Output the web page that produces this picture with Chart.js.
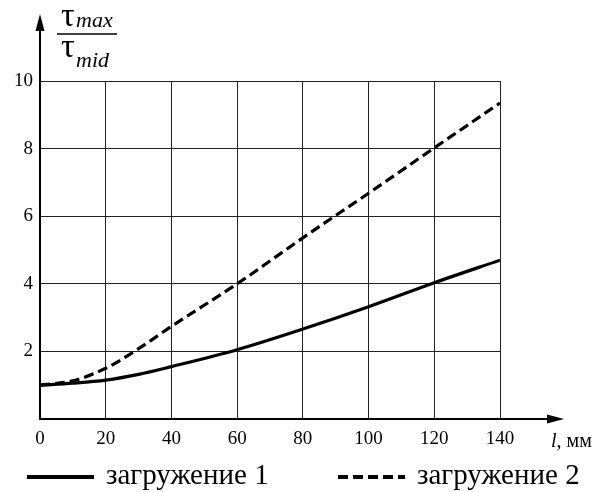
<!DOCTYPE html>
<html>
<head>
<meta charset="utf-8">
<script src="https://cdn.jsdelivr.net/npm/chart.js@4/dist/chart.umd.min.js"></script>
<style>
    html, body { margin: 0; padding: 0; background: #fff; }
    #wrap { width: 613px; height: 492px; position: relative; }
</style>
</head>
<body>
<div id="wrap"><canvas id="chart" width="613" height="492"></canvas></div>
<script>
// ================================================================
// DATA
// ================================================================
const lengths    = [0, 10, 20, 30, 40, 60, 80, 100, 120, 140];      // l, мм
const load1      = [1.0, 1.06, 1.15, 1.32, 1.55, 2.05, 2.66, 3.32, 4.03, 4.7];
const load2      = [1.0, 1.13, 1.5, 2.08, 2.74, 4.0, 5.36, 6.68, 8.02, 9.35];
const xTicks     = [0, 20, 40, 60, 80, 100, 120, 140];
const yTicks     = [2, 4, 6, 8, 10];
const seriesNames = ['загружение 1', 'загружение 2'];

const SERIF = '"Liberation Serif", "DejaVu Serif", serif';

const toPoints = ys => lengths.map((x, i) => ({ x, y: ys[i] }));

// ================================================================
// PLUGIN: стрелки осей, подписи осей, легенда
// ================================================================
const axisDecor = {
    id: 'axisDecor',
    afterDraw(chart) {
        const { ctx, chartArea: a } = chart;
        ctx.save();
        ctx.strokeStyle = '#000'; ctx.fillStyle = '#000';

        // y arrow
        ctx.lineWidth = 2;
        ctx.beginPath(); ctx.moveTo(a.left, a.top); ctx.lineTo(a.left, 26); ctx.stroke();
        ctx.beginPath(); ctx.moveTo(a.left, 14); ctx.lineTo(a.left - 4.5, 31); ctx.lineTo(a.left + 4.5, 31); ctx.closePath(); ctx.fill();

        // x arrow
        ctx.beginPath(); ctx.moveTo(a.right, a.bottom); ctx.lineTo(552, a.bottom); ctx.stroke();
        ctx.beginPath(); ctx.moveTo(564, a.bottom); ctx.lineTo(547, a.bottom - 4.5); ctx.lineTo(547, a.bottom + 4.5); ctx.closePath(); ctx.fill();

        // y title: τmax / τmid
        ctx.textBaseline = 'alphabetic'; ctx.textAlign = 'left';
        ctx.font = `34px ${SERIF}`;
        ctx.fillText('τ', 61, 26);
        ctx.fillText('τ', 61, 57);
        ctx.font = `italic 22px ${SERIF}`;
        ctx.fillText('max', 76, 27);
        ctx.fillText('mid', 76, 67);
        ctx.lineWidth = 1.5;
        ctx.beginPath(); ctx.moveTo(57, 34); ctx.lineTo(117, 34); ctx.stroke();

        // x title: l, мм
        ctx.font = `italic 20px ${SERIF}`;
        ctx.fillText('l', 551, 447);
        const lw = ctx.measureText('l').width;
        ctx.font = `20px ${SERIF}`;
        ctx.fillText(', мм', 551 + lw, 447);

        // legend
        const pos = [27, 338];
        ctx.font = `29px ${SERIF}`;
        chart.data.datasets.forEach((ds, i) => {
            const x0 = pos[i], y = 477;
            ctx.lineWidth = 4;
            ctx.setLineDash(ds.borderDash || []);
            ctx.beginPath(); ctx.moveTo(x0, y); ctx.lineTo(x0 + 67, y); ctx.stroke();
            ctx.setLineDash([]);
            ctx.fillText(ds.label, x0 + 79, 484);
        });
        ctx.restore();
    }
};

// ================================================================
// DIAGRAM
// ================================================================
new Chart(document.getElementById('chart').getContext('2d'), {
    type: 'line',
    data: {
        datasets: [
            { label: seriesNames[0], data: toPoints(load1), borderColor: '#000', borderWidth: 3.2,
              pointRadius: 0, cubicInterpolationMode: 'monotone', fill: false },
            { label: seriesNames[1], data: toPoints(load2), borderColor: '#000', borderWidth: 3.2,
              borderDash: [10, 5], pointRadius: 0, cubicInterpolationMode: 'monotone', fill: false }
        ]
    },
    options: {
        responsive: false,
        animation: false,
        layout: { padding: { left: 0, top: 81, right: 113, bottom: 0 } },
        plugins: { legend: { display: false }, tooltip: { enabled: false } },
        scales: {
            x: {
                type: 'linear', min: 0, max: 140,
                afterFit: s => { s.height = 73; },
                afterBuildTicks: s => { s.ticks = xTicks.map(v => ({ value: v })); },
                grid: { color: '#222', lineWidth: 1, drawTicks: false },
                border: { display: true, color: '#000', width: 2 },
                ticks: { color: '#000', padding: 9, maxRotation: 0, font: { family: SERIF, size: 19 } }
            },
            y: {
                min: 0, max: 10,
                afterFit: s => { s.width = 40; },
                afterBuildTicks: s => { s.ticks = [0, ...yTicks].map(v => ({ value: v })); },
                grid: { color: '#222', lineWidth: 1, drawTicks: false },
                border: { display: true, color: '#000', width: 2 },
                ticks: { color: '#000', padding: 7, font: { family: SERIF, size: 19 },
                         callback: v => v === 0 ? '' : v }
            }
        }
    },
    plugins: [axisDecor]
});
</script>
</body>
</html>
